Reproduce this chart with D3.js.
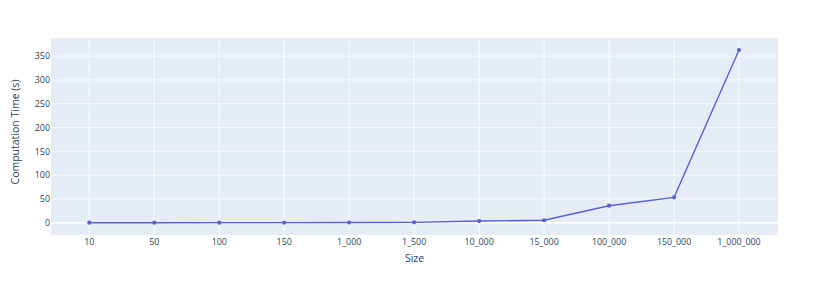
<!DOCTYPE html>
<html>
<head>
<meta charset="utf-8">
<script src="https://cdn.jsdelivr.net/npm/d3@7"></script>
<style>
  body { margin: 0; background: #fff; }
  text { font-family: "Open Sans", sans-serif; fill: #2a3f5f; }
</style>
</head>
<body>
<script>
const width = 828
const height = 286
const plot = { left: 51, top: 38, right: 778, bottom: 235 }

const sizes = ['10', '50', '100', '150', '1_000', '1_500', '10_000', '15_000', '100_000', '150_000', '1_000_000']
const times = [0.01, 0.05, 0.1, 0.2, 0.5, 0.8, 3.5, 5.2, 35.7, 53.3, 362.8]
const y_ticks = [0, 50, 100, 150, 200, 250, 300, 350]

const x = d3.scaleLinear()
            .domain([-0.59, 10.6])
            .range([plot.left, plot.right]);

const y = d3.scaleLinear()
            .domain([-25.8, 388])
            .range([plot.bottom, plot.top]);

const svg = d3.select("body")
              .append("svg")
              .attr("width", width)
              .attr("height", height);

svg.append("rect")
   .attr("x", plot.left)
   .attr("y", plot.top)
   .attr("width", plot.right - plot.left)
   .attr("height", plot.bottom - plot.top)
   .attr("fill", "#e5ecf6");

// grid
svg.selectAll("line.vgrid")
   .data(sizes)
   .enter()
   .append("line")
   .attr("class", "vgrid")
   .attr("x1", (d, i) => x(i))
   .attr("x2", (d, i) => x(i))
   .attr("y1", plot.top)
   .attr("y2", plot.bottom)
   .attr("stroke", "#fff")
   .attr("stroke-width", 0.8);

svg.selectAll("line.hgrid")
   .data(y_ticks)
   .enter()
   .append("line")
   .attr("class", "hgrid")
   .attr("x1", plot.left)
   .attr("x2", plot.right)
   .attr("y1", (d) => y(d))
   .attr("y2", (d) => y(d))
   .attr("stroke", "#fff")
   .attr("stroke-width", (d) => d === 0 ? 1.5 : 0.8);

// tick labels
svg.selectAll("text.xtick")
   .data(sizes)
   .enter()
   .append("text")
   .attr("class", "xtick")
   .attr("font-size", "8.9px")
   .attr("text-anchor", "middle")
   .attr("x", (d, i) => x(i))
   .attr("y", plot.bottom + 9.5)
   .text((d) => d);

svg.selectAll("text.ytick")
   .data(y_ticks)
   .enter()
   .append("text")
   .attr("class", "ytick")
   .attr("font-size", "8.9px")
   .attr("text-anchor", "end")
   .attr("x", plot.left - 1)
   .attr("y", (d) => y(d) + 3.2)
   .text((d) => d);

// axis titles
svg.append("text")
   .attr("font-size", "10.5px")
   .attr("text-anchor", "middle")
   .attr("x", (plot.left + plot.right) / 2)
   .attr("y", 262)
   .text("Size");

svg.append("text")
   .attr("font-size", "10.5px")
   .attr("text-anchor", "middle")
   .attr("transform", "translate(19," + 132 + ") rotate(-90)")
   .text("Computation Time (s)");

// series
const line = d3.line()
               .x((d, i) => x(i))
               .y((d) => y(d));

svg.append("path")
   .datum(times)
   .attr("d", line)
   .attr("fill", "none")
   .attr("stroke", "#5860d2")
   .attr("stroke-width", 1.4);

svg.selectAll("circle")
   .data(times)
   .enter()
   .append("circle")
   .attr("cx", (d, i) => x(i))
   .attr("cy", (d) => y(d))
   .attr("r", 2.1)
   .attr("fill", "#5860d2");
</script>
</body>
</html>
